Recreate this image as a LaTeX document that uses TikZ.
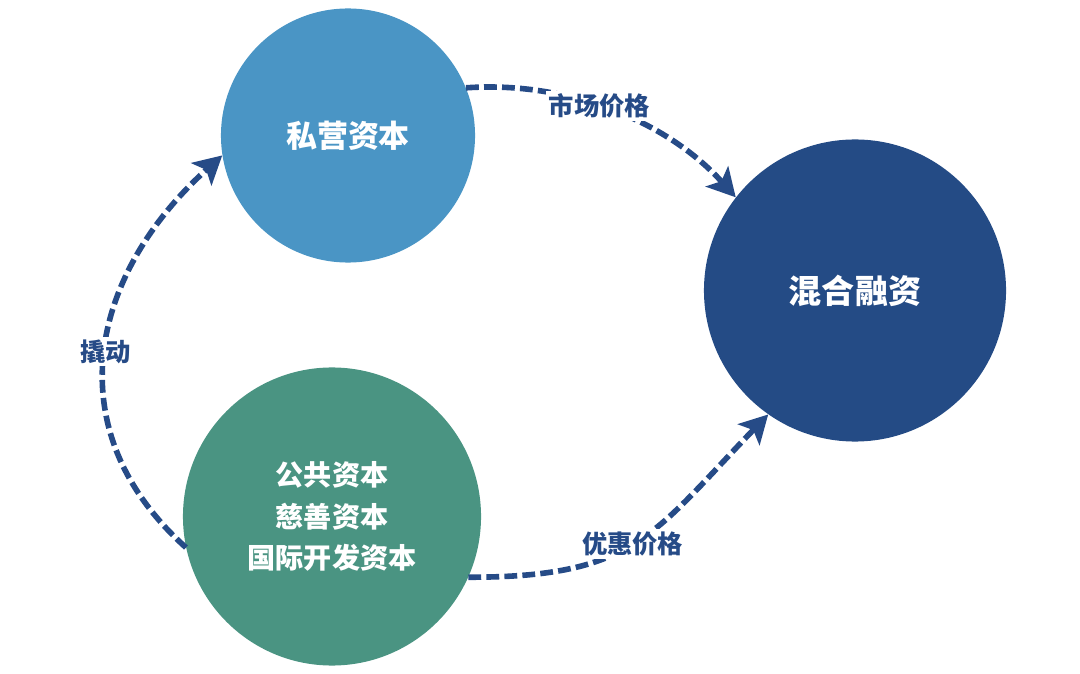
\documentclass[tikz,border=0pt]{standalone}
\usepackage{fontspec}
\newfontfamily\cjk{Noto Sans CJK SC}
\usetikzlibrary{arrows.meta,positioning}
\definecolor{hellblau}{HTML}{4A95C5}
\definecolor{dunkelblau}{HTML}{244B85}
\definecolor{gruen}{HTML}{4A9482}
\definecolor{pfeilblau}{HTML}{264B87}
\tikzset{
    %Define standard arrow tip
    >={Stealth[length=0.7cm,width=0.75cm,inset=0.16cm]},
    %Define style for circles
    kreis/.style={
           circle,
           draw=none,
           text=white,
           font=\cjk\bfseries,
           align=center,
           inner sep=0pt},
    % Define arrow style
    pfeil/.style={
           ->,
           draw=pfeilblau,
           line width=0.14cm,
           dash pattern=on 0.32cm off 0.13cm},
    % Define style for labels on arrows
    etikett/.style={
           fill=white,
           text=pfeilblau,
           font=\cjk\bfseries\fontsize{18}{20}\selectfont,
           inner sep=2pt}
}
\begin{document}
\begin{tikzpicture}[x=0.025cm,y=0.025cm]
\useasboundingbox (0,0) rectangle (1080,673);

 %nodes
\node[kreis, fill=hellblau, minimum size=6.35cm, font=\cjk\bfseries\fontsize{22}{26}\selectfont] (priv) at (348,537.5) {私营资本};
\node[kreis, fill=dunkelblau, minimum size=7.55cm, font=\cjk\bfseries\fontsize{23.5}{28}\selectfont] (mix) at (855,382.5) {混合融资};
\node[kreis, fill=gruen, minimum size=7.45cm, font=\cjk\bfseries\fontsize{20}{29.5}\selectfont] (pub) at (332,156.5) {公共资本\\慈善资本\\国际开发资本};

 %arrows
\path
    (priv.22) edge[pfeil, out=4, in=132, looseness=0.9] node[etikett, pos=0.45] {市场价格} (mix.142)
    (pub.-24) edge[pfeil, out=0, in=226, looseness=1.25] node[etikett, pos=0.48] {优惠价格} (mix.235)
    (pub.192) edge[pfeil, out=138, in=222, looseness=1.15] node[etikett, pos=0.5] {撬动} (priv.189);
\end{tikzpicture}
\end{document}
